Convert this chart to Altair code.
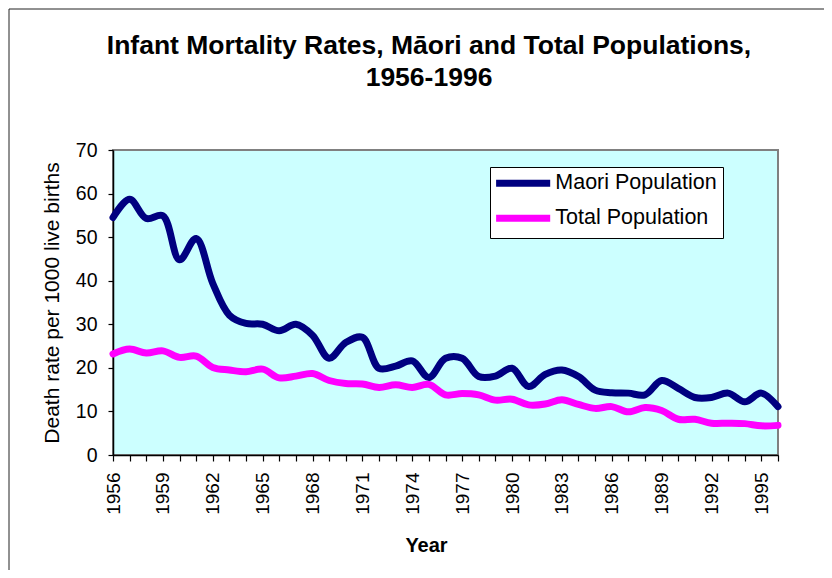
import altair as alt
import pandas as pd

# ---------------- data ----------------
years = list(range(1956, 1997))
maori = [54.5, 58.7, 54.3, 54.9, 44.8, 49.7, 39.4, 32.1, 30.2, 30.0, 28.5, 30.0, 27.5, 22.2,
         25.8, 27.0, 19.9, 20.4, 21.6, 17.8, 22.2, 22.2, 18.0, 18.1, 19.9, 15.7, 18.5, 19.5,
         18.0, 14.9, 14.3, 14.2, 13.8, 17.1, 15.3, 13.2, 13.2, 14.2, 12.2, 14.2, 11.1]
total = [23.2, 24.3, 23.4, 23.9, 22.4, 22.7, 20.1, 19.5, 19.1, 19.7, 17.7, 18.1, 18.7, 17.1,
         16.4, 16.3, 15.5, 16.1, 15.5, 16.2, 13.8, 14.1, 13.8, 12.6, 12.8, 11.5, 11.7, 12.7,
         11.6, 10.7, 11.1, 9.9, 10.9, 10.2, 8.2, 8.2, 7.3, 7.3, 7.2, 6.7, 6.8]
series_names = ["Maori Population", "Total Population"]
series_colors = ["#000080", "#FF00FF"]
title_lines = ["Infant Mortality Rates, Māori and Total Populations,", "1956-1996"]
x_title = "Year"
y_title = "Death rate per 1000 live births"
y_ticks = [0, 10, 20, 30, 40, 50, 60, 70]

df = pd.DataFrame({
    "Year": years + years,
    "Rate": maori + total,
    "Series": [series_names[0]] * len(years) + [series_names[1]] * len(years),
})
dummy = pd.DataFrame({"a": [0]})

FONT = "Liberation Sans"
W, H = 665, 305

lines = alt.Chart(df).mark_line(
    strokeWidth=7, interpolate="catmull-rom", strokeCap="round", strokeJoin="round"
).encode(
    x=alt.X("Year:Q",
            scale=alt.Scale(domain=[1956, 1996], nice=False, zero=False),
            axis=alt.Axis(values=years, format="d",
                          labelExpr="(datum.value - 1956) % 3 == 0 ? datum.label : ''",
                          labelAngle=270, labelFontSize=19, labelPadding=11,
                          tickSize=6, labelOverlap=False, labelFlush=False, grid=False,
                          title=x_title, titleX=313, titleY=96.7,
                          titleBaseline="alphabetic", titleAlign="center",
                          titleFontSize=20, titleFontWeight="bold")),
    y=alt.Y("Rate:Q",
            scale=alt.Scale(domain=[0, 70], nice=False),
            axis=alt.Axis(values=y_ticks, tickSize=5, labelPadding=11, labelFontSize=19.5,
                          grid=False, title=y_title, titleX=-61, titleY=152.5,
                          titleAngle=270, titleBaseline="middle", titleAlign="center",
                          titleFontWeight="normal", titleFontSize=21)),
    color=alt.Color("Series:N",
                    scale=alt.Scale(domain=series_names, range=series_colors),
                    legend=alt.Legend(title=None, orient="none", legendX=377, legendY=17,
                                      direction="vertical", fillColor="white",
                                      strokeColor="black", padding=5.5,
                                      symbolType="M-5,0H5", symbolSize=117,
                                      symbolStrokeWidth=7, symbolOffset=16.9,
                                      labelFontSize=21.5, labelFont=FONT, labelOffset=21.4,
                                      rowPadding=6, labelLimit=400)),
)

border = alt.Chart(dummy).mark_rect(fillOpacity=0, stroke="#222222", strokeWidth=1).encode(
    x=alt.value(-104), y=alt.value(-141), x2=alt.value(900), y2=alt.value(700)
)

t1 = alt.Chart(dummy).mark_text(
    text=title_lines[0], font=FONT, fontSize=26.5, fontWeight="bold",
    align="center", baseline="alphabetic", color="black"
).encode(x=alt.value(316), y=alt.value(-96.5))
t2 = alt.Chart(dummy).mark_text(
    text=title_lines[1], font=FONT, fontSize=26.5, fontWeight="bold",
    align="center", baseline="alphabetic", color="black"
).encode(x=alt.value(316), y=alt.value(-64))

chart = alt.layer(border, lines, t1, t2).properties(
    width=W, height=H,
    autosize=alt.AutoSizeParams(type="none"),
    padding={"left": 105, "top": 142, "right": 46, "bottom": 115},
    background="white",
).configure_view(
    fill="#CCFFFF", stroke="#808080", strokeWidth=2
).configure_axis(
    domainColor="black", tickColor="black", domainWidth=1.5, tickWidth=1.2,
    labelColor="black", titleColor="black", labelFont=FONT, titleFont=FONT
)

chart.save("out.html", embed_options={"renderer": "svg", "actions": False})
